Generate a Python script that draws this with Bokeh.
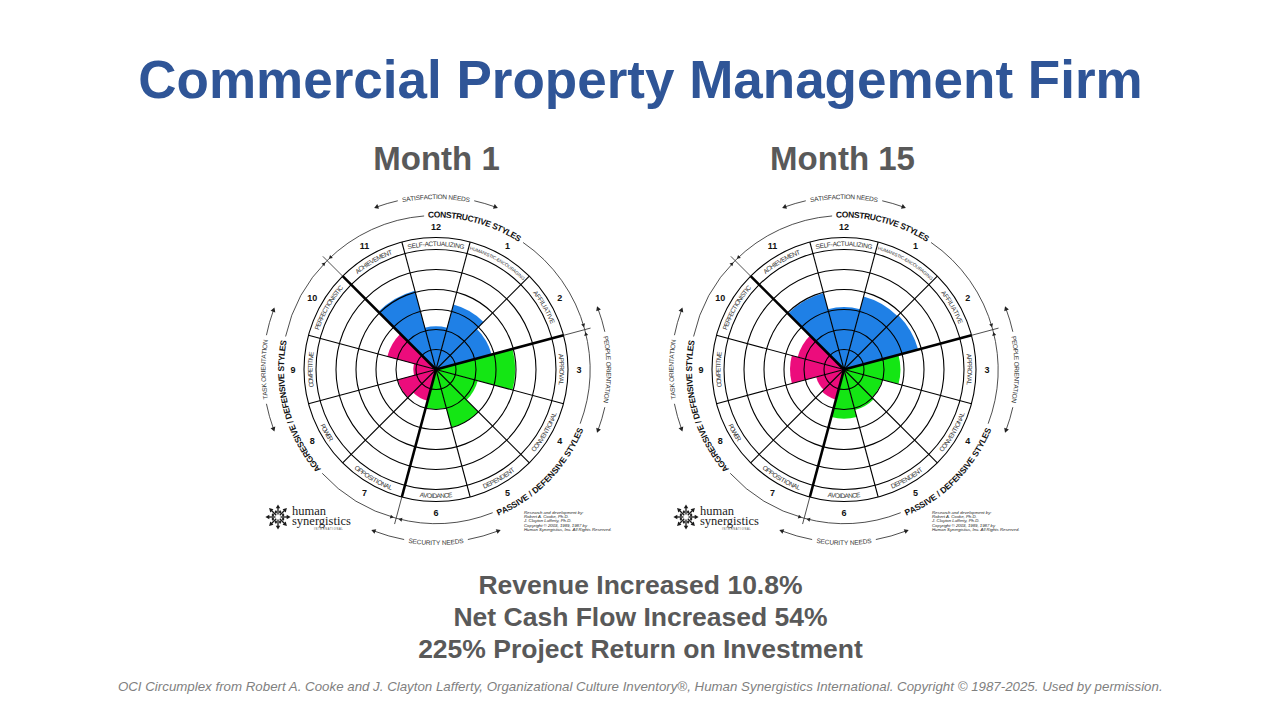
import math
from bokeh.plotting import figure
from bokeh.models import Range1d
from bokeh.embed import file_html
from bokeh.resources import INLINE
from bokeh.core.properties import value

# ---------------- data ----------------
title_text = "Commercial Property Management Firm"
panel_titles = ["Month 1", "Month 15"]
sector_numbers = list(range(1, 13))
style_names = ["HUMANISTIC-ENCOURAGING", "AFFILIATIVE", "APPROVAL", "CONVENTIONAL",
               "DEPENDENT", "AVOIDANCE", "OPPOSITIONAL", "POWER", "COMPETITIVE",
               "PERFECTIONISTIC", "ACHIEVEMENT", "SELF-ACTUALIZING"]
sector_cluster = ["constructive", "constructive", "passive", "passive", "passive", "passive",
                  "aggressive", "aggressive", "aggressive", "aggressive",
                  "constructive", "constructive"]
# percentile-like scores (0-100, 100 = outer ring), sectors 1..12
month1_scores = [56, 48, 66, 36, 50, 33, 27, 33, 19, 42, 68, 36]
month15_scores = [63, 64, 47, 33, 35, 41, 26, 24, 45, 40, 66, 52]
cluster_labels = ["CONSTRUCTIVE STYLES", "PASSIVE / DEFENSIVE STYLES", "AGGRESSIVE / DEFENSIVE STYLES"]
need_labels = ["SATISFACTION NEEDS", "PEOPLE ORIENTATION", "SECURITY NEEDS", "TASK ORIENTATION"]
result_lines = ["Revenue Increased 10.8%", "Net Cash Flow Increased 54%",
                "225% Project Return on Investment"]
footnote = ("OCI Circumplex from Robert A. Cooke and J. Clayton Lafferty, Organizational Culture "
            "Inventory\u00ae, Human Synergistics International. Copyright \u00a9 1987-2025. Used by permission.")
credit_lines = ["Research and development by:", "Robert A. Cooke, Ph.D.", "J. Clayton Lafferty, Ph.D.",
                "Copyright \u00a9 2003, 1989, 1987 by", "Human Synergistics, Inc. All Rights Reserved."]

# ---------------- style / layout ----------------
CLUSTER_COLORS = {"constructive": "#1F80E6", "passive": "#14E614", "aggressive": "#EC0C7C"}
TITLE_BLUE = "#2F5597"
GRAY = "#595959"
FONT = "Liberation Sans"
R_IN = 120.0     # inner edge of label band (=100 on score scale)
R_OUT = 132.0
RINGS = [20, 40, 60, 80, 100, 120, 132]
label_arc = [63, 37, 31, 44, 35, 32, 42, 18, 35, 50, 41, 57]

WTAB = dict(A=667, B=667, C=722, D=722, E=667, F=611, G=778, H=722, I=278, J=500, K=667, L=556,
            M=833, N=722, O=778, P=667, Q=778, R=722, S=667, T=611, U=722, V=667, W=944, X=667,
            Y=667, Z=611)
WTAB[" "] = 278
WTAB["-"] = 333
WTAB["/"] = 278

W, H = 1264, 704
p = figure(width=W, height=H, x_range=Range1d(0, W), y_range=Range1d(0, H),
           output_backend="svg", toolbar_location=None, min_border=0,
           x_axis_type=None, y_axis_type=None)
p.outline_line_color = None
p.background_fill_color = "white"
p.border_fill_color = "white"


def Y(py):
    return H - py


def rad(d):
    return d * math.pi / 180.0


def curved(cx, cy, text, r, phi_c, arc_len, cw, store):
    ws = [WTAB.get(ch, 600) / 1000.0 for ch in text]
    total = sum(ws)
    scale = arc_len / total
    L = total * scale
    acc = 0.0
    for ch, w in zip(text, ws):
        s = scale * (acc + w / 2)
        acc += w
        off = (L / 2 - s) / r
        phi = rad(phi_c) + off if cw else rad(phi_c) - off
        rot = phi - math.pi / 2 if cw else phi + math.pi / 2
        store["x"].append(cx + r * math.cos(phi))
        store["y"].append(cy + r * math.sin(phi))
        store["t"].append(ch)
        store["a"].append(rot)
    return math.degrees(L / r / 2)


def new_store():
    return {"x": [], "y": [], "t": [], "a": []}


def draw_store(st, size, color, style="normal"):
    p.text(x=st["x"], y=st["y"], text=st["t"], angle=st["a"], text_font=value(FONT),
           text_font_size=value(size), text_font_style=style, text_color=color,
           text_align="center", text_baseline="middle")


def arc_piece(cx, cy, r, a0, a1, lw=0.8):
    p.arc(x=[cx], y=[cy], radius=r, start_angle=rad(min(a0, a1)), end_angle=rad(max(a0, a1)),
          line_color="#222222", line_width=lw)


def arrow_tip(cx, cy, r, phi_deg, increasing, size=5):
    ph = rad(phi_deg)
    if increasing:
        dx, dy = -math.sin(ph), math.cos(ph)
    else:
        dx, dy = math.sin(ph), -math.cos(ph)
    p.scatter(x=[cx + r * math.cos(ph)], y=[cy + r * math.sin(ph)], marker="triangle", size=size,
              angle=math.atan2(dy, dx) - math.pi / 2, fill_color="#222222", line_color=None)


def circumplex(cx, cy, scores):
    # bars
    xs, ys, rs, st, en, cols = [], [], [], [], [], []
    for k, sc, cl in zip(sector_numbers, scores, sector_cluster):
        c = 90 - 30 * k
        xs.append(cx); ys.append(cy); rs.append(sc / 100.0 * R_IN)
        st.append(rad(c - 15)); en.append(rad(c + 15)); cols.append(CLUSTER_COLORS[cl])
    p.wedge(x=xs, y=ys, radius=rs, start_angle=st, end_angle=en, fill_color=cols, line_color=None)
    # rings
    p.circle(x=[cx] * len(RINGS), y=[cy] * len(RINGS), radius=RINGS, fill_color=None,
             line_color="black", line_width=1.1)
    # spokes
    thin = [15 + 30 * j for j in range(12) if (15 + 30 * j) % 120 != 15]
    thick = [15, 135, 255]
    p.segment(x0=[cx] * len(thin), y0=[cy] * len(thin),
              x1=[cx + R_OUT * math.cos(rad(a)) for a in thin],
              y1=[cy + R_OUT * math.sin(rad(a)) for a in thin], line_color="black", line_width=1.1)
    p.segment(x0=[cx] * 3, y0=[cy] * 3,
              x1=[cx + R_OUT * math.cos(rad(a)) for a in thick],
              y1=[cy + R_OUT * math.sin(rad(a)) for a in thick], line_color="black", line_width=2.6)
    p.segment(x0=[cx + R_OUT * math.cos(rad(a)) for a in thick],
              y0=[cy + R_OUT * math.sin(rad(a)) for a in thick],
              x1=[cx + 160 * math.cos(rad(a)) for a in thick],
              y1=[cy + 160 * math.sin(rad(a)) for a in thick], line_color="#222222", line_width=0.8)
    # band labels
    sl = new_store()
    sl_small = new_store()
    for k, name, al in zip(sector_numbers, style_names, label_arc):
        c = 90 - 30 * k
        cw = not (-160 < c < -20)
        curved(cx, cy, name, 126, c, al, cw, sl_small if k == 1 else sl)
    draw_store(sl, "6.5px", "#333333")
    draw_store(sl_small, "4.6px", "#333333")
    # sector numbers
    p.text(x=[cx + 143 * math.cos(rad(90 - 30 * k)) for k in sector_numbers],
           y=[cy + 143 * math.sin(rad(90 - 30 * k)) for k in sector_numbers],
           text=[str(k) for k in sector_numbers], text_font=value(FONT), text_font_style="bold",
           text_font_size=value("9px"), text_color="#111111", text_align="center",
           text_baseline="middle")
    # cluster arcs + labels
    cs = new_store()
    RA = 154
    h = curved(cx, cy, cluster_labels[0], 155, 75, 97, True, cs)
    arc_piece(cx, cy, RA, 75 + h + 1.5, 135); arc_piece(cx, cy, RA, 15, 75 - h - 1.5)
    h = curved(cx, cy, cluster_labels[1], 156, -44.5, 122, False, cs)
    arc_piece(cx, cy, RA, -105, -44.5 - h - 1.5); arc_piece(cx, cy, RA, -44.5 + h + 1.5, 15)
    h = curved(cx, cy, cluster_labels[2], 155, 195, 140, True, cs)
    arc_piece(cx, cy, RA, 135, 195 - h - 1.5); arc_piece(cx, cy, RA, 195 + h + 1.5, 255)
    draw_store(cs, "8.5px", "#111111", "bold")
    for b in (15, 135, 255):
        arrow_tip(cx, cy, RA, b + 1.8, False, 4)
        arrow_tip(cx, cy, RA, b - 1.8, True, 4)
    # needs
    ns = new_store()
    RN = 173
    for lab, c, al, cw, span in zip(need_labels, [90, 0, -90, 180], [68, 67, 55, 60],
                                    [True, True, False, True], [20, 20.5, 21, 20]):
        h = curved(cx, cy, lab, RN, c, al, cw, ns)
        arc_piece(cx, cy, RN, c + h + 1.5, c + span)
        arc_piece(cx, cy, RN, c - span, c - h - 1.5)
        arrow_tip(cx, cy, RN, c + span, True, 5)
        arrow_tip(cx, cy, RN, c - span, False, 5)
    draw_store(ns, "6.5px", "#333333")
    # logo
    lx, ly = cx - 158, cy - 147.5
    dirs = [rad(45 * i) for i in range(8)]
    p.segment(x0=[lx + 2.5 * math.cos(a) for a in dirs], y0=[ly + 2.5 * math.sin(a) for a in dirs],
              x1=[lx + 9.5 * math.cos(a) for a in dirs], y1=[ly + 9.5 * math.sin(a) for a in dirs],
              line_color="#1a1a1a", line_width=1.3)
    p.scatter(x=[lx + 10 * math.cos(a) for a in dirs], y=[ly + 10 * math.sin(a) for a in dirs],
              marker="triangle", size=4.5, angle=[a - math.pi / 2 for a in dirs],
              fill_color="#1a1a1a", line_color=None)
    p.scatter(x=[lx + 5.5 * math.cos(a + rad(22.5)) for a in dirs],
              y=[ly + 5.5 * math.sin(a + rad(22.5)) for a in dirs],
              marker="diamond", size=4, fill_color="#1a1a1a", line_color=None)
    p.text(x=[cx - 144, cx - 144], y=[cy - 141.5, cy - 151.5], text=["human", "synergistics"],
           text_font=value("Liberation Serif"), text_font_size=value("12.5px"),
           text_color="#222222", text_align="left", text_baseline="middle")
    p.text(x=[cx - 122], y=[cy - 159.5], text=["I N T E R N A T I O N A L"],
           text_font=value(FONT), text_font_size=value("2.6px"), text_color="#444444",
           text_align="left", text_baseline="middle")
    # credits
    p.text(x=[cx + 88] * 5, y=[cy - 142.5 - 4.4 * i for i in range(5)], text=credit_lines,
           text_font=value(FONT), text_font_style="italic", text_font_size=value("4.3px"),
           text_color="#222222", text_align="left", text_baseline="middle")


centers = [(435.5, Y(369)), (843.5, Y(369))]
for (cx, cy), scores in zip(centers, [month1_scores, month15_scores]):
    circumplex(cx, cy, scores)

# titles and texts
p.text(x=[640], y=[Y(79)], text=[title_text], text_font=value(FONT), text_font_style="bold",
       text_font_size=value("53px"), text_color=TITLE_BLUE, text_align="center",
       text_baseline="middle")
p.text(x=[436, 842], y=[Y(158), Y(158)], text=panel_titles, text_font=value(FONT),
       text_font_style="bold", text_font_size=value("33px"), text_color=GRAY,
       text_align="center", text_baseline="middle")
p.text(x=[640] * 3, y=[Y(584), Y(616), Y(648)], text=result_lines, text_font=value(FONT),
       text_font_style="bold", text_font_size=value("26.5px"), text_color=GRAY,
       text_align="center", text_baseline="middle")
p.text(x=[640], y=[Y(686)], text=[footnote], text_font=value(FONT), text_font_style="italic",
       text_font_size=value("13.3px"), text_color="#7F7F7F", text_align="center",
       text_baseline="middle")

open("out.html", "w").write(file_html(p, INLINE))
